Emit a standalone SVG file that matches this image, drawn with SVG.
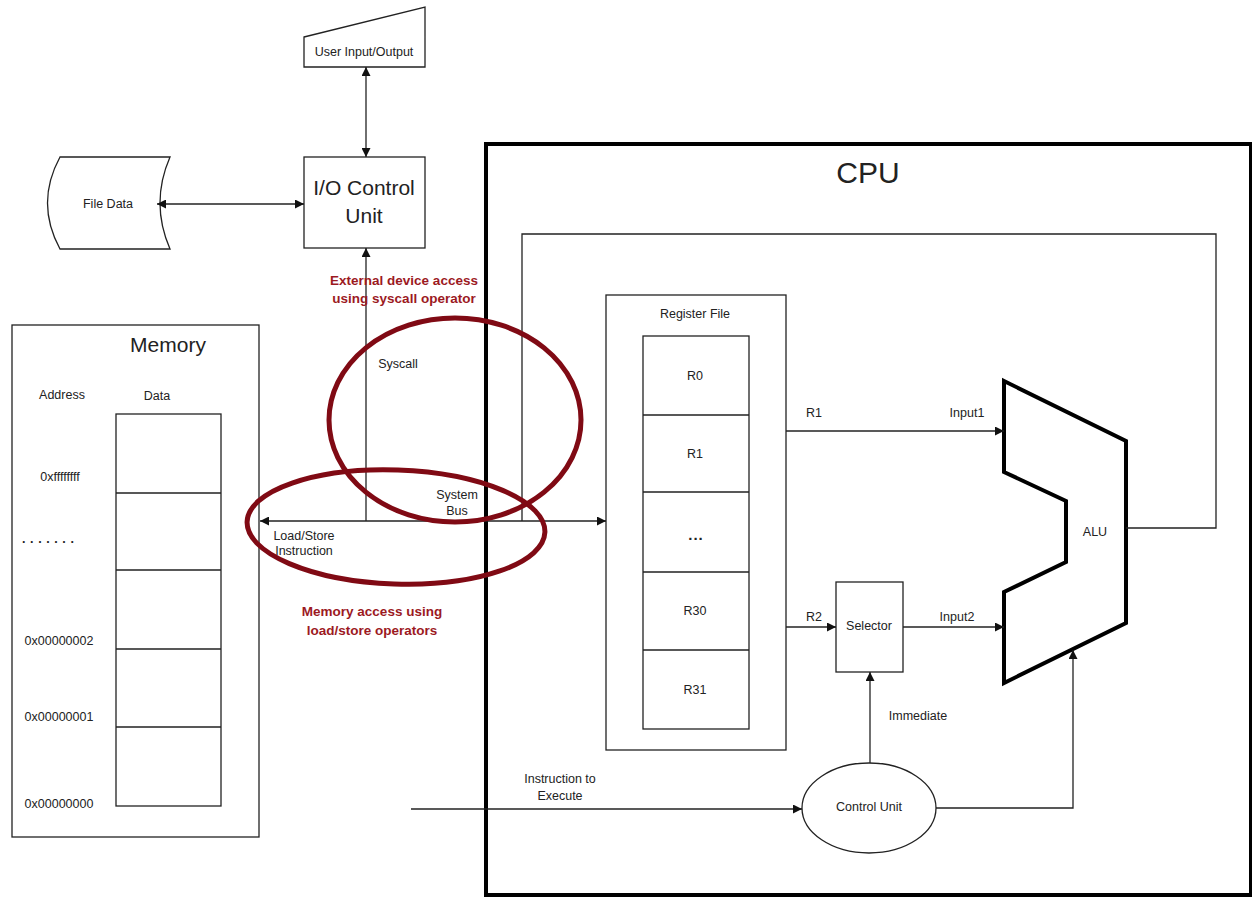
<svg xmlns="http://www.w3.org/2000/svg" width="1252" height="898" viewBox="0 0 1252 898">
<style>
.s{fill:#fff;stroke:#222;stroke-width:1.3}
.l{fill:none;stroke:#222;stroke-width:1.3}
.t{font-family:"Liberation Sans",Arial,sans-serif;font-size:12.5px;fill:#222;text-anchor:middle}
.big{font-size:21px}
.r{font-family:"Liberation Sans",Arial,sans-serif;font-size:13.5px;font-weight:bold;fill:#9c1a1f;text-anchor:middle}
.ring{fill:none;stroke:#800a14;stroke-width:5}
</style>
<defs>
<marker id="a" viewBox="0 0 10 10" refX="10" refY="5" markerWidth="9" markerHeight="9" markerUnits="userSpaceOnUse" orient="auto-start-reverse">
<path d="M0,0 L10,5 L0,10 z" fill="#111"/>
</marker>
</defs>
<rect width="1252" height="898" fill="#fff"/>

<g id="cpu">
<rect x="486" y="144" width="765" height="751" fill="none" stroke="#000" stroke-width="4"/>
<text class="t" x="868" y="183" style="font-size:30px">CPU</text>
</g>

<g id="user-io">
<polygon class="s" points="304,37 425,7 425,67 304,67"/>
<text class="t" x="364" y="56">User Input/Output</text>
</g>

<g id="io-control">
<rect class="s" x="304" y="157" width="121" height="91"/>
<text class="t big" x="364" y="195">I/O Control</text>
<text class="t big" x="364" y="223">Unit</text>
</g>

<g id="file-data">
<path class="s" d="M60,157 L170,157 Q150,203 170,249 L60,249 Q35,203 60,157 Z"/>
<text class="t" x="108" y="208">File Data</text>
</g>

<g id="memory">
<rect class="s" x="12" y="325" width="247" height="512"/>
<text class="t big" x="168" y="352">Memory</text>
<text class="t" x="62" y="399">Address</text>
<text class="t" x="157" y="400">Data</text>
<rect class="s" x="116" y="414" width="105" height="392"/>
<path class="l" d="M116,493 H221 M116,570 H221 M116,649 H221 M116,727 H221"/>
<text class="t" x="60" y="481">0xffffffff</text>
<text class="t" x="22" y="543" style="text-anchor:start;letter-spacing:4.6px;font-weight:bold">.......</text>
<text class="t" x="59" y="645">0x00000002</text>
<text class="t" x="59" y="721">0x00000001</text>
<text class="t" x="59" y="808">0x00000000</text>
</g>

<g id="register-file">
<rect class="s" x="606" y="295" width="180" height="455"/>
<text class="t" x="695" y="318">Register File</text>
<rect class="s" x="643" y="336" width="106" height="393"/>
<path class="l" d="M643,415 H749 M643,492 H749 M643,572 H749 M643,650 H749"/>
<text class="t" x="695" y="380">R0</text>
<text class="t" x="695" y="458">R1</text>
<text class="t" x="696" y="540" style="font-size:15px;font-weight:bold;letter-spacing:1px">...</text>
<text class="t" x="695" y="615">R30</text>
<text class="t" x="695" y="694">R31</text>
</g>

<g id="selector">
<rect class="s" x="836" y="582" width="67" height="90"/>
<text class="t" x="869" y="630">Selector</text>
</g>

<g id="alu">
<polygon points="1004,381 1126,441 1126,623 1004,683 1004,592 1066,562 1066,501 1004,472" fill="#fff" stroke="#000" stroke-width="4" stroke-linejoin="miter"/>
<text class="t" x="1095" y="536">ALU</text>
</g>

<g id="control-unit">
<ellipse class="s" cx="869" cy="808" rx="67" ry="45"/>
<text class="t" x="869" y="811">Control Unit</text>
</g>

<g id="connectors">
<line class="l" x1="366" y1="67" x2="366" y2="157" marker-start="url(#a)" marker-end="url(#a)"/>
<line class="l" x1="157" y1="204" x2="304" y2="204" marker-start="url(#a)" marker-end="url(#a)"/>
<line class="l" x1="260" y1="521" x2="606" y2="521" marker-start="url(#a)" marker-end="url(#a)"/>
<line class="l" x1="366" y1="521" x2="366" y2="248" marker-end="url(#a)"/>
<polyline class="l" points="1126,528 1216,528 1216,234 522,234 522,521"/>
<line class="l" x1="786" y1="431" x2="1004" y2="431" marker-end="url(#a)"/>
<line class="l" x1="786" y1="627" x2="836" y2="627" marker-end="url(#a)"/>
<line class="l" x1="903" y1="627" x2="1004" y2="627" marker-end="url(#a)"/>
<line class="l" x1="870" y1="763" x2="870" y2="672" marker-end="url(#a)"/>
<line class="l" x1="411" y1="809" x2="802" y2="809" marker-end="url(#a)"/>
<polyline class="l" points="936,808 1073,808 1073,650" marker-end="url(#a)"/>
<text class="t" x="398" y="368">Syscall</text>
<text class="t" x="457" y="499">System</text>
<text class="t" x="457" y="515">Bus</text>
<text class="t" x="304" y="540">Load/Store</text>
<text class="t" x="304" y="555">Instruction</text>
<text class="t" x="814" y="417">R1</text>
<text class="t" x="967" y="417">Input1</text>
<text class="t" x="814" y="621">R2</text>
<text class="t" x="957" y="621">Input2</text>
<text class="t" x="918" y="720">Immediate</text>
<text class="t" x="560" y="783">Instruction to</text>
<text class="t" x="560" y="800">Execute</text>
</g>

<g id="annotations">
<ellipse class="ring" cx="455" cy="420" rx="126" ry="102"/>
<ellipse class="ring" cx="396" cy="527" rx="149" ry="57" transform="rotate(2 396 527)"/>
<text class="r" x="404" y="285">External device access</text>
<text class="r" x="404" y="303">using syscall operator</text>
<text class="r" x="372" y="616">Memory access using</text>
<text class="r" x="372" y="635">load/store operators</text>
</g>
</svg>
